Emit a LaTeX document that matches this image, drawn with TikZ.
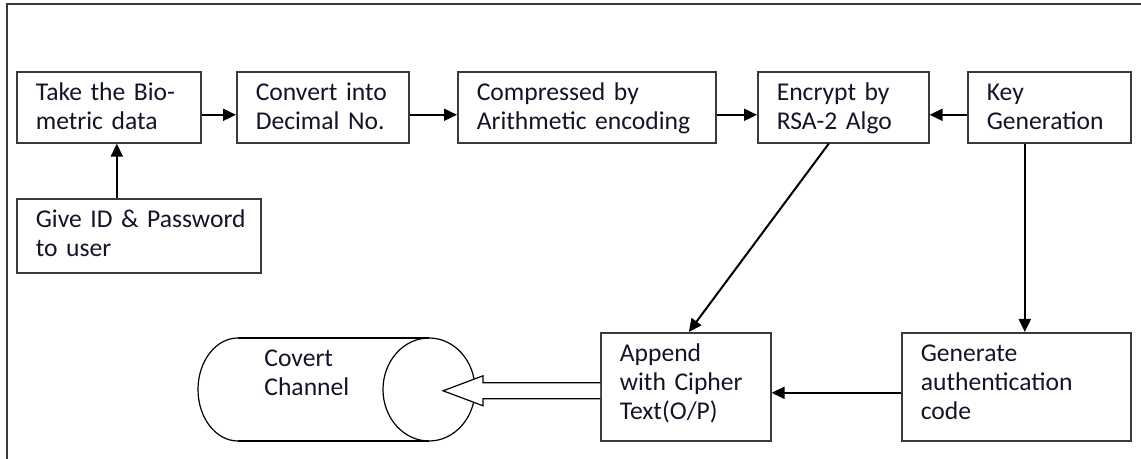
\documentclass[tikz,border=0pt]{standalone}
\usepackage{fontspec}
\setmainfont{Carlito}
\usetikzlibrary{arrows.meta}
\definecolor{edge}{HTML}{3A3A3A}
\definecolor{ink}{HTML}{141428}
\begin{document}
\begin{tikzpicture}[x=0.5pt,y=-0.5pt,
  every node/.style={font=\fontsize{12.8pt}{14.5pt}\selectfont, text=ink,
    execute at begin node={\hyphenpenalty=10000\exhyphenpenalty=10000}},
  stepbox/.style={draw=edge, line width=0.8pt, anchor=north west, align=left,
    inner xsep=9.5pt, inner ysep=0pt, text height=14.5pt},
  flow/.style={-{Triangle[length=6.5pt,width=6pt]}, line width=1pt},
  frameline/.style={draw=edge, line width=1pt},
  thin outline/.style={draw=black, line width=0.6pt},
]
\useasboundingbox (0,0) rectangle (1141,459);
\draw[frameline] (1141,4) -- (7,4) -- (7,459);

% processing steps
\node[stepbox, minimum width=92pt,   text width=73pt,   text depth=21pt]   (bio)  at (16,71)   {Take the Bio-\\metric data};
\node[stepbox, minimum width=86pt,   text width=67pt,   text depth=21pt]   (dec)  at (236,71)  {Convert into\\Decimal No.};
\node[stepbox, minimum width=129pt,  text width=110pt,  text depth=21pt]   (cmp)  at (457,71)  {Compressed by\\Arithmetic encoding};
\node[stepbox, minimum width=85.5pt, text width=66.5pt, text depth=21pt]   (enc)  at (757,71)  {Encrypt by\\RSA-2 Algo};
\node[stepbox, minimum width=81.5pt, text width=62.5pt, text depth=21pt]   (key)  at (967,71)  {Key\\Generation};
\node[stepbox, minimum width=122pt,  text width=103pt,  text depth=22.5pt] (uid)  at (16,198)  {\mbox{Give ID \& Password}\\to user};
\node[stepbox, minimum width=85pt,   text width=66pt,   text depth=39.5pt] (app)  at (600,332) {Append\\with Cipher\\Text(O/P)};
\node[stepbox, minimum width=114.5pt,text width=95.5pt, text depth=39.5pt] (auth) at (901,332) {Generate\\authentication\\code};

% covert channel drum
\draw[thin outline] (238,338) -- (429,338) (238,441) -- (429,441);
\draw[thin outline] (238,338) arc[start angle=90, end angle=270, x radius=20pt, y radius=25.75pt];
\draw[thin outline] (429,389.5) ellipse[x radius=23pt, y radius=25.75pt];
\node[anchor=north west, align=left, inner sep=0pt, text width=60pt, text height=9pt] (chan) at (264,348) {Covert\\Channel};

% connectors
\draw[flow] ([yshift=-3.75pt]bio.east) -- ([yshift=-3.75pt]dec.west);
\draw[flow] ([yshift=-3.75pt]dec.east) -- ([yshift=-3.75pt]cmp.west);
\draw[flow] ([yshift=-3.75pt]cmp.east) -- ([yshift=-3.75pt]enc.west);
\draw[flow] ([yshift=-3.75pt]key.west) -- ([yshift=-3.75pt]enc.east);
\draw[flow] ([xshift=4pt]bio.south |- uid.north) -- ([xshift=4pt]bio.south);
\draw[flow] ([xshift=-7.25pt]enc.south) -- ([xshift=1.5pt]app.north);
\draw[flow] ([xshift=-12.25pt]key.south) -- ([xshift=-12.25pt]key.south |- auth.north);
\draw[flow] ([yshift=-3pt]auth.west) -- ([yshift=-3pt]auth.west -| app.east);

% hollow arrow into the channel
\draw[thin outline, fill=white] ([yshift=2pt]app.west) -- ++(-58.5pt,0) -- ++(0,3.5pt)
  -- ++(-20pt,-7.5pt) -- ++(20pt,-7.5pt) -- ++(0,3.5pt) -- ++(58.5pt,0);
\end{tikzpicture}
\end{document}
